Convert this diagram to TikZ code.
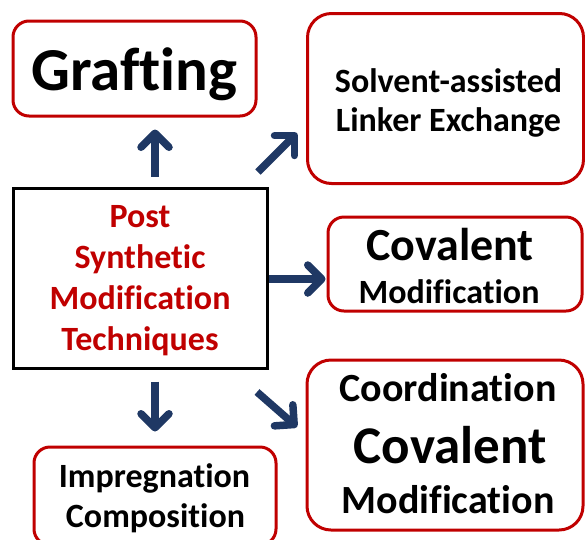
\documentclass[tikz,border=0pt]{standalone}
\usepackage{fontspec}
\setmainfont{Carlito}[Ligatures=NoCommon]
\usetikzlibrary{arrows.meta}
\definecolor{boxred}{HTML}{C00000}
\definecolor{navy}{HTML}{1F3864}
\newcommand\fsz[1]{\fontsize{#1}{#1}\selectfont\bfseries}
\begin{document}
\begin{tikzpicture}[x=1pt,y=-1pt,
  redbox/.style={draw=boxred,line width=3pt,rounded corners=16pt,inner sep=0pt},
  mainbox/.style={draw=black,line width=3pt,inner sep=0pt},
  txt/.style={anchor=base,inner sep=0pt},
  arr/.style={draw=navy,line width=7.5pt,-{Straight Barb[length=14pt,width=28pt,round]}}]
\useasboundingbox (0,0) rectangle (585,539);
% boxes
\node[redbox,minimum width=243pt,minimum height=95pt] (graft) at (134.5,68.5) {};
\node[redbox,rounded corners=24pt,minimum width=276pt,minimum height=170pt] (solv) at (445.5,98.5) {};
\node[redbox,minimum width=254pt,minimum height=94pt] (cov) at (455,264) {};
\node[mainbox,minimum width=254pt,minimum height=180pt] (ctr) at (140,278) {};
\node[redbox,rounded corners=24pt,minimum width=276pt,minimum height=170pt] (coord) at (445,445) {};
\node[redbox,minimum width=242pt,minimum height=98pt] (impr) at (155,496) {};
% texts
\node[txt] (tg) at (134.5,90) {\fsz{61}Grafting};
\node[txt] (ts1) at (448.5,92) {\fsz{34}Solvent-assisted};
\node[txt] (ts2) at (448.5,131) {\fsz{34}Linker Exchange};
\node[txt] (tc1) at (450,260) {\fsz{46}Covalent};
\node[txt] (tc2) at (449,303) {\fsz{34}Modification};
\node[txt,text=boxred] (tp1) at (140,227) {\fsz{34}Post};
\node[txt,text=boxred] (tp2) at (140,268) {\fsz{34}Synthetic};
\node[txt,text=boxred] (tp3) at (140,309) {\fsz{34}Modification};
\node[txt,text=boxred] (tp4) at (140,350) {\fsz{34}Techniques};
\node[txt] (tk1) at (448,401) {\fsz{40}Coordination};
\node[txt] (tk2) at (450,463) {\fsz{53}Covalent};
\node[txt] (tk3) at (448,513) {\fsz{40}Modification};
\node[txt] (ti1) at (154.5,487) {\fsz{34}Impregnation};
\node[txt] (ti2) at (155.5,527) {\fsz{34}Composition};
% arrows
\coordinate (ne1) at (258,172);
\coordinate (ne2) at (297,133);
\coordinate (se1) at (257,392);
\coordinate (se2) at (297,427);
\draw[arr,shorten <=10pt,shorten >=12pt] ([xshift=15pt]ctr.north) -- ([xshift=15pt]ctr.north |- graft.south);
\draw[arr,shorten >=1pt] ([yshift=-1pt]ctr.east) -- ([yshift=-1pt]ctr.east -| cov.west);
\draw[arr,shorten <=12pt,shorten >=14pt] ([xshift=15pt]ctr.south) -- ([xshift=15pt]ctr.south |- impr.north);
\draw[arr] (ne1) -- (ne2);
\draw[arr] (se1) -- (se2);
\end{tikzpicture}
\end{document}
